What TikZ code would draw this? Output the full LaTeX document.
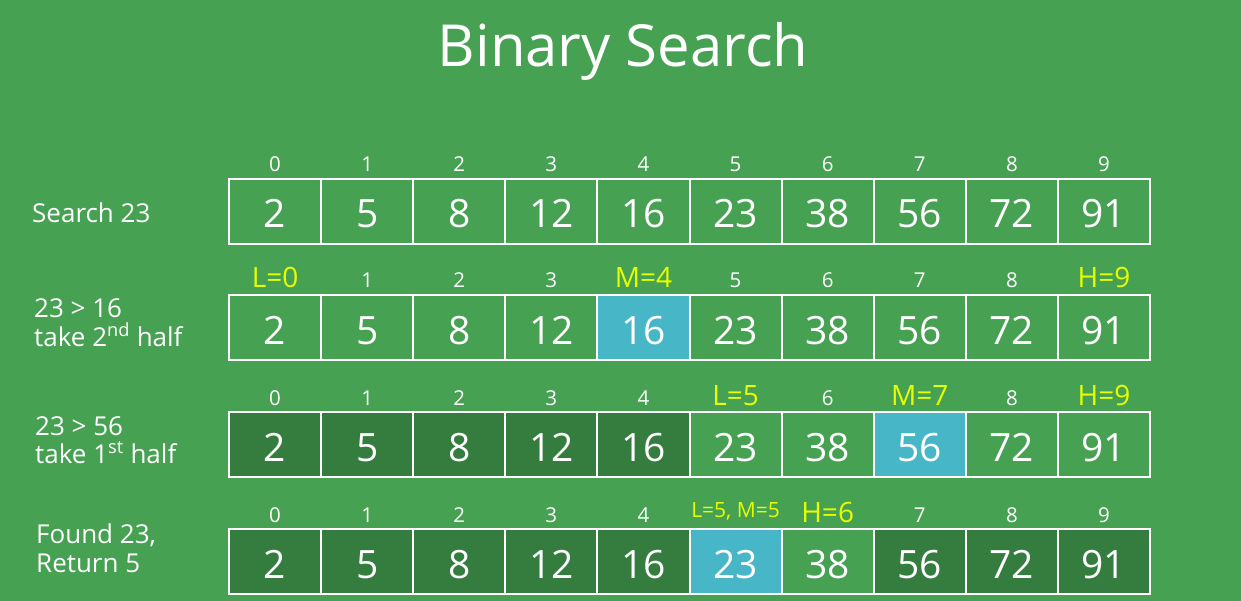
\documentclass[tikz,border=0pt]{standalone}
\usepackage{fontspec}
\setmainfont{Open Sans}
\definecolor{bg}{RGB}{70,161,82}
\definecolor{cy}{RGB}{71,182,198}
\definecolor{dk}{RGB}{52,125,62}
\definecolor{yl}{RGB}{232,255,0}
\tikzset{
  cell/.style={draw=white, line width=2pt, minimum width=92.1pt, minimum height=65pt,
    inner sep=0pt, anchor=north west, text=white,
    font=\fontsize{39}{41}\selectfont, text height=33pt, text depth=0pt},
  idx/.style={anchor=base, inner sep=0pt, text=white, font=\fontsize{20.5}{22}\selectfont},
  ptr/.style={anchor=base, inner sep=0pt, text=yl, font=\fontsize{28}{30}\selectfont},
  ptrsmall/.style={anchor=base, inner sep=0pt, text=yl, font=\fontsize{21}{23}\selectfont},
  side/.style={anchor=base west, inner sep=0pt, text=white, font=\fontsize{26}{28}\selectfont},
  title/.style={anchor=base, inner sep=0pt, text=white, font=\fontsize{58}{62}\selectfont}
}
\begin{document}
\begin{tikzpicture}[x=1pt,y=-1pt]
\fill[bg] (0,0) rectangle (1241,601);
\useasboundingbox (0,0) rectangle (1241,601);

\node[title] (title) at (623,67) {Binary Search};

% rows of cells
\foreach \r/\T/\cells in {
  1/178/{2/bg,5/bg,8/bg,12/bg,16/bg,23/bg,38/bg,56/bg,72/bg,91/bg},
  2/294/{2/bg,5/bg,8/bg,12/bg,16/cy,23/bg,38/bg,56/bg,72/bg,91/bg},
  3/411/{2/dk,5/dk,8/dk,12/dk,16/dk,23/bg,38/bg,56/cy,72/bg,91/bg},
  4/528/{2/dk,5/dk,8/dk,12/dk,16/dk,23/cy,38/bg,56/dk,72/dk,91/dk}}{
  \foreach \v/\f [count=\i from 0] in \cells {
    \node[cell, fill=\f] (c\r-\i) at ({228+92.1*\i},\T) {\v};
  }
}

% index / pointer labels
\foreach \i in {0,...,9} {
  \node[idx] (l1-\i) at ([yshift=6pt]c1-\i.north) {\i};
}
\foreach \r/\labs in {
  2/{L=0/ptr,1/idx,2/idx,3/idx,M=4/ptr,5/idx,6/idx,7/idx,8/idx,H=9/ptr},
  3/{0/idx,1/idx,2/idx,3/idx,4/idx,L=5/ptr,6/idx,M=7/ptr,8/idx,H=9/ptr}}{
  \foreach \t/\s [count=\i from 0] in \labs {
    \node[\s] (l\r-\i) at ([yshift=6pt]c\r-\i.north) {\t};
  }
}
\foreach \i in {0,1,2,3,4,7,8,9} {
  \node[idx] (l4-\i) at ([yshift=6pt]c4-\i.north) {\i};
}
\node[ptrsmall] (l4-5) at ([yshift=11pt]c4-5.north) {L=5, M=5};
\node[ptr] (l4-6) at ([yshift=6pt]c4-6.north) {H=6};

% side texts
\node[side] (s1) at (32,223) {Search 23};
\node[side] (s2a) at (34,318) {23 > 16};
\node[side] (s2b) at (34,346) {take 2\textsuperscript{nd} half};
\node[side] (s3a) at (35,435) {23 > 56};
\node[side] (s3b) at (35,463) {take 1\textsuperscript{st} half};
\node[side] (s4a) at (36,543) {Found 23,};
\node[side] (s4b) at (36,572) {Return 5};
\end{tikzpicture}
\end{document}
